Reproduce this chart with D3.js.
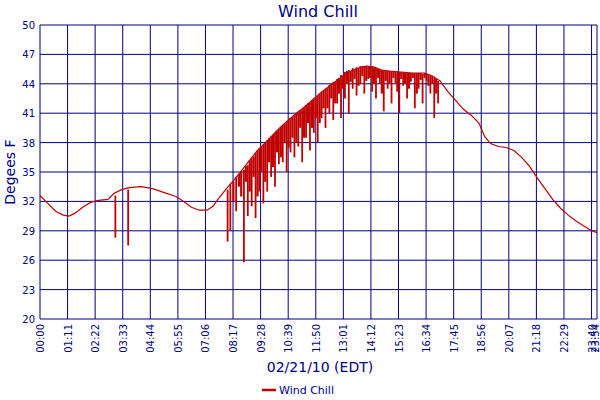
<!DOCTYPE html>
<html><head><meta charset="utf-8">
<script src="https://cdn.jsdelivr.net/npm/d3@7"></script>
<style>body{margin:0;background:#fff}text{font-family:"DejaVu Sans",sans-serif;fill:#000080}</style>
</head><body><div id="chart"></div>
<script>
// minutes since midnight, degrees F
const baseMinutes = [0,20,40,60,75,90,110,130,150,175,190,210,230,260,290,320,350,370,390,410,430,445,460,480,500,520,540,560,580,600,620,640,660,680,700,720,740,760,780,800,820,840,860,880,900,930,960,990,1010,1030,1050,1070,1090,1110,1130,1145,1160,1180,1200,1220,1240,1260,1280,1300,1320,1340,1360,1380,1400,1420,1434];
const baseValues = [32.6,31.8,31.0,30.6,30.5,30.8,31.4,31.9,32.1,32.2,32.8,33.2,33.4,33.5,33.3,32.9,32.5,32.0,31.4,31.1,31.1,31.5,32.3,33.3,34.2,35.2,36.2,37.2,38.0,38.8,39.6,40.3,41.0,41.6,42.3,43.0,43.6,44.2,44.8,45.3,45.6,45.8,45.7,45.4,45.3,45.2,45.1,45.1,44.8,44.3,43.2,42.3,41.4,40.8,40.0,38.6,37.9,37.6,37.5,37.2,36.5,35.6,34.4,33.3,32.2,31.3,30.6,30.0,29.5,29.0,28.8];
// wind gust drops, two interleaved sets
const spikeMinutes = [194,227,483,490,505,525,535,545,555,565,575,585,595,605,615,625,635,645,655,665,675,685,695,705,715,725,735,745,755,765,775,785,795,805,815,825,835,845,855,865,875,885,895,905,915,925,935,945,955,965,975,985,995,1005,1015,1025];
const spikeTops = [32.6,33.2,33.2,33.8,34.5,35.2,35.7,36.4,36.9,37.4,37.8,38.2,38.6,39.0,39.4,39.8,40.1,40.5,40.8,41.1,41.4,41.8,42.1,42.5,42.8,43.2,43.5,43.9,44.2,44.5,44.9,45.2,45.4,45.6,45.7,45.8,45.8,45.8,45.8,45.6,45.4,45.3,45.3,45.2,45.2,45.2,45.1,45.1,45.1,45.1,45.1,45.0,45.0,44.8,44.6,44.3];
const spikeBottoms = [28.3,27.5,27.9,29.0,31.0,25.8,30.5,31.5,30.3,33.0,31.8,33.0,34.5,33.5,35.8,36.0,35.0,37.0,36.5,37.6,36.0,38.5,37.2,39.0,38.0,40.5,39.5,41.0,40.3,42.0,40.5,42.5,41.0,43.5,42.8,44.0,43.0,44.5,43.2,42.5,44.0,41.2,43.5,42.0,44.0,41.0,43.8,42.5,44.2,41.5,43.5,42.0,44.3,43.0,40.5,42.0];
const spike2Minutes = [498,512,518,530,540,550,560,570,580,590,600,610,620,630,640,650,660,670,680,690,700,710,720,730,740,750,760,770,780,790,800,810,820,830,840,850,860,870,880,890,900,910,920,930,940,950,960,970,980,990,1000,1010,1020];
const spike2Tops = [34.0,34.8,35.1,35.6,36.2,36.6,37.2,37.6,38.0,38.4,38.8,39.2,39.6,39.9,40.3,40.6,41.0,41.3,41.6,42.0,42.3,42.6,43.0,43.3,43.6,44.0,44.2,44.6,44.8,45.3,45.3,45.5,45.6,45.8,45.8,45.8,45.7,45.5,45.4,45.3,45.3,45.2,45.2,45.2,45.1,45.1,45.1,45.1,45.1,45.1,45.0,44.8,44.5];
const spike2Bottoms = [32.0,33.5,32.5,34.0,33.0,34.5,32.5,35.0,34.0,36.0,35.5,37.0,36.5,38.0,37.5,38.5,38.0,39.5,38.5,40.0,39.5,40.5,40.0,41.5,41.5,42.5,42.0,43.0,43.5,44.0,44.2,44.5,43.8,44.8,44.3,44.6,44.0,44.6,43.0,44.3,44.0,44.6,43.2,44.5,44.0,43.5,44.6,43.0,44.4,44.6,43.8,44.0,43.0];
const tickMinutes = [0,71,142,213,284,355,426,497,568,639,710,781,852,923,994,1065,1136,1207,1278,1349,1420,1434];
const yTicks = [20,23,26,29,32,35,38,41,44,47,50];

const W = 600, H = 400, m = {l: 40, r: 3, t: 25, b: 81};
const svg = d3.select("#chart").append("svg").attr("width", W).attr("height", H);
const x = d3.scaleLinear().domain([0, 1434]).range([m.l, W - m.r]);
const y = d3.scaleLinear().domain([20, 50]).range([H - m.b, m.t]);
const navy = "#000080", red = "#c00000";

const fmt = t => String(Math.floor(t / 60)).padStart(2, "0") + ":" + String(t % 60).padStart(2, "0");

// grid
svg.append("g").selectAll("line").data(tickMinutes).join("line")
  .attr("x1", d => x(d)).attr("x2", d => x(d)).attr("y1", y(20)).attr("y2", y(50))
  .attr("stroke", navy).attr("stroke-width", 1);
svg.append("g").selectAll("line").data(yTicks).join("line")
  .attr("x1", x(0)).attr("x2", x(1434)).attr("y1", d => y(d)).attr("y2", d => y(d))
  .attr("stroke", navy).attr("stroke-width", 1);

// axes labels
svg.append("g").selectAll("text").data(yTicks).join("text")
  .attr("x", m.l - 5).attr("y", d => y(d) + 4).attr("text-anchor", "end")
  .attr("font-size", 10).text(d => d);
svg.append("g").selectAll("text").data(tickMinutes).join("text")
  .attr("transform", d => `translate(${Math.min(x(d) + 4, W - 1)},${H - m.b + 5}) rotate(-90)`)
  .attr("text-anchor", "end").attr("font-size", 10).text(fmt);

// data
const line = d3.line().x(d => x(d[0])).y(d => y(d[1]));
svg.append("path").datum(baseMinutes.map((t, i) => [t, baseValues[i]]))
  .attr("d", line).attr("fill", "none").attr("stroke", red).attr("stroke-width", 1.2);
svg.append("g").selectAll("line").data(spikeMinutes).join("line")
  .attr("x1", d => x(d)).attr("x2", d => x(d))
  .attr("y1", (d, i) => y(spikeTops[i])).attr("y2", (d, i) => y(spikeBottoms[i]))
  .attr("stroke", red).attr("stroke-width", 1.8);
svg.append("g").selectAll("line").data(spike2Minutes).join("line")
  .attr("x1", d => x(d)).attr("x2", d => x(d))
  .attr("y1", (d, i) => y(spike2Tops[i])).attr("y2", (d, i) => y(spike2Bottoms[i]))
  .attr("stroke", red).attr("stroke-width", 2.2);

// titles
svg.append("text").attr("x", 318).attr("y", 17).attr("text-anchor", "middle")
  .attr("font-size", 16).text("Wind Chill");
svg.append("text").attr("transform", `translate(15,${(m.t + H - m.b) / 2}) rotate(-90)`)
  .attr("text-anchor", "middle").attr("font-size", 14).text("Degees F");
svg.append("text").attr("x", 320).attr("y", 372).attr("text-anchor", "middle")
  .attr("font-size", 14).text("02/21/10 (EDT)");
svg.append("line").attr("x1", 262).attr("x2", 276).attr("y1", 390).attr("y2", 390)
  .attr("stroke", red).attr("stroke-width", 2.5);
svg.append("text").attr("x", 279).attr("y", 394).attr("font-size", 11).text("Wind Chill");
</script></body></html>
